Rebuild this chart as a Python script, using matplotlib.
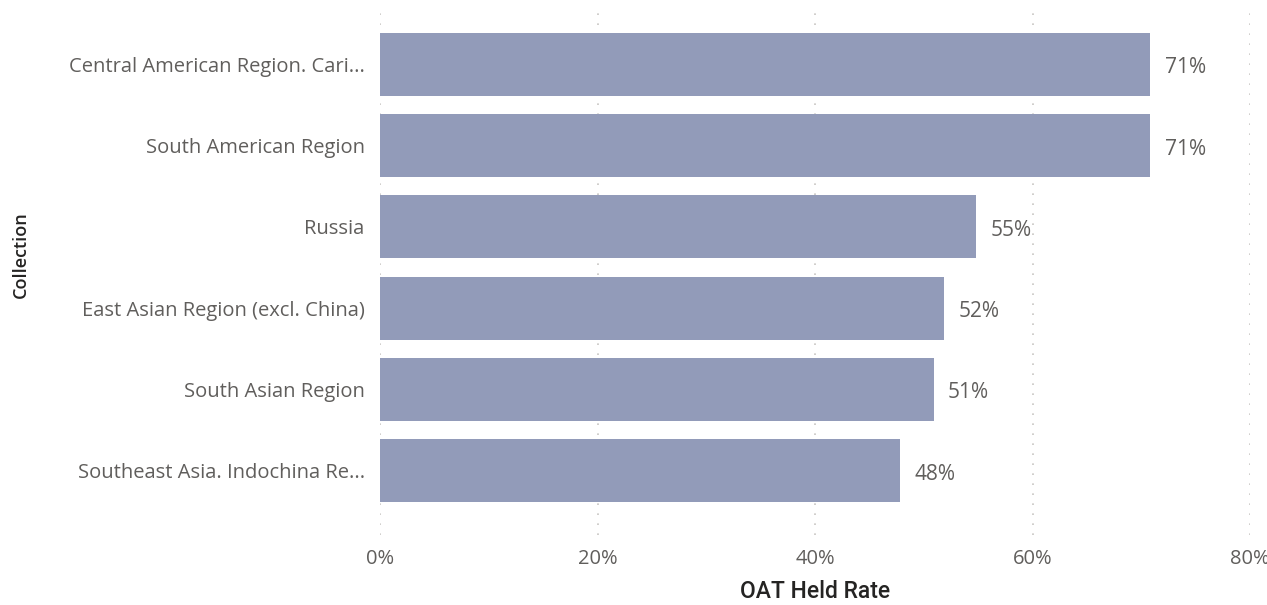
import matplotlib
matplotlib.use("Agg")
import matplotlib.pyplot as plt
from matplotlib.ticker import FuncFormatter, FixedLocator

categories = [
    "Central American Region. Cari...",
    "South American Region",
    "Russia",
    "East Asian Region (excl. China)",
    "South Asian Region",
    "Southeast Asia. Indochina Re...",
]
values = [70.8, 70.8, 54.8, 51.9, 50.9, 47.8]
value_labels = ["71%", "71%", "55%", "52%", "51%", "48%"]
x_ticks = [0, 20, 40, 60, 80]

plt.rcParams['font.family'] = ['Open Sans', 'DejaVu Sans']
W, H = 1267, 605
fig = plt.figure(figsize=(W / 100, H / 100), dpi=100)
ax = fig.add_axes([380 / W, 1 - 535 / H, (1250 - 380) / W, (535 - 5) / H])

bar_color = "#929BB9"
text_color = "#605E5C"
ys = list(range(len(categories)))
ax.barh(ys, values, height=0.775, color=bar_color, zorder=2)
for y, v, lab in zip(ys, values, value_labels):
    ax.annotate(lab, (v, y), xytext=(10.5, -2.5), textcoords="offset points",
                va="center", ha="left", fontsize=15, color=text_color)

ax.set_xlim(0, 80)
ax.set_ylim(5.79, -0.73)
ax.set_yticks(ys)
ax.set_yticklabels(categories, fontsize=14.5, color=text_color)
ax.xaxis.set_major_locator(FixedLocator(x_ticks))
ax.xaxis.set_major_formatter(FuncFormatter(lambda v, p: f"{v:.0f}%"))
ax.tick_params(axis="x", labelsize=14.5, labelcolor=text_color, length=0, pad=10)
ax.tick_params(axis="y", length=0, pad=11)
ax.grid(axis="x", color="#C8C6C4", linestyle=(0, (1, 5)), linewidth=1.2, zorder=0)
for s in ax.spines.values():
    s.set_visible(False)

ax.set_xlabel("OAT Held Rate", fontsize=16.5, color="#252423", labelpad=8,
              fontweight="medium", family=["Roboto", "DejaVu Sans"])
fig.text(21 / W, 1 - 255 / H, "Collection", rotation=90, fontsize=13, color="#252423",
         ha="center", va="center", fontweight="semibold")

fig.savefig("out.png", dpi=100, facecolor="white")
